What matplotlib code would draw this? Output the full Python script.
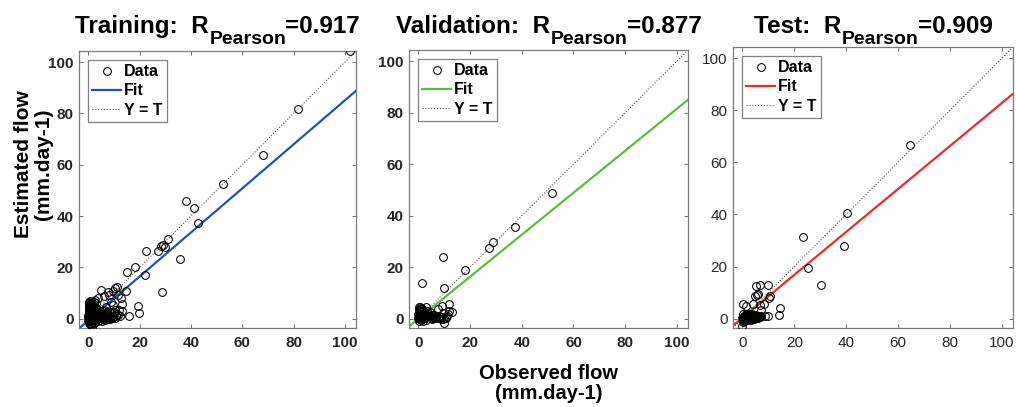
import matplotlib
matplotlib.use("Agg")
import matplotlib.pyplot as plt

plt.rcParams["font.family"] = ["Liberation Sans", "DejaVu Sans"]

# ---- data (observed, estimated) ----
train_obs = [102.0, 81.6, 68.2, 52.4, 37.9, 41.2, 42.8, 35.9, 31.1, 28.5, 27.1, 30.0, 29.3, 22.6,
             18.3, 15.2, 22.2, 28.9, 19.2, 19.8, 16.0, 14.7, 11.2, 10.3, 12.7, 13.0, 13.0, 5.1,
             7.5, 9.5, 6.2, 8.8, 8.2, 11.4, 6.9, 9.5, 12.1, 3.6, 2.3, 0.4, 1.5,
             0.1, 0.3, 0.2, 0.5, 0.1, 0.4, 0.6, 0.2, 0.8, 0.3, 1.0, 0.7, 1.2, 0.9, 1.3, 0.6,
             1.1, 1.4, 0.4, 0.8, 1.5, 0.2, 1.0, 0.5, 1.6, 1.8, 2.0, 2.2, 2.5, 2.8, 3.0, 3.3,
             2.6, 1.9, 0.0, 0.9,
             2.0, 2.4, 2.9, 3.4, 3.8, 4.2, 4.6, 5.0, 5.4, 5.8, 6.2, 6.6, 7.0, 7.4, 7.8, 8.2,
             8.6, 9.0, 9.4, 9.8, 10.3, 10.8, 11.5, 3.1, 4.0, 4.8, 5.6, 6.4, 7.2, 8.0, 8.9,
             3.6, 5.2, 2.2, 4.4, 6.0, 9.9, 10.6, 11.0, 12.3, 1.4, 3.0, 5.9, 7.7, 0.6, 1.0,
             1.7, 2.7, 4.5, 6.8,
             0.0, 0.3, 0.6, 0.9, 1.2, 0.1, 0.5, 0.8, 1.1, 0.3, 0.7, 0.0, 0.4, 1.3, 0.2, 0.9,
             1.6, 2.1, 2.5, 3.2, 3.9, 4.7, 5.5, 6.3, 7.1, 7.9, 8.7, 9.6, 1.9, 2.3]
train_est = [104.2, 81.8, 63.7, 52.4, 45.9, 43.1, 37.2, 23.2, 31.0, 28.4, 26.2, 27.9, 28.6, 26.2,
             20.0, 18.2, 17.1, 10.5, 5.1, 2.2, 1.2, 10.9, 12.3, 11.8, 8.0, 5.8, 2.9, 11.3,
             10.6, 10.9, 8.7, 6.7, 9.3, 9.3, 4.5, 5.4, 3.5, 8.0, 6.7, 6.1, -3.4,
             -1.5, -0.8, 0.5, 1.2, 2.0, 2.8, 3.5, 4.2, 4.8, 5.5, 6.2, -2.0, -1.0, 0.2, 1.6, 2.4,
             3.1, 4.0, -0.2, 1.0, 2.2, 3.2, 5.2, 6.8, 0.6, 3.6, 5.0, 1.8, 4.4, 2.6, 6.0, 3.8,
             7.2, -1.2, 0.9, -2.6,
             0.3, -0.5, 0.8, 0.0, 1.2, 0.4, -0.6, 0.9, 0.2, 1.4, 0.5, -0.3, 1.0, 0.3, 1.6, 0.6,
             0.1, 1.1, 0.4, 0.8, 0.2, 0.9, 1.4, 1.9, 2.4, 1.8, 2.9, 2.2, 2.6, 3.0, 2.3,
             -1.0, -0.9, -1.6, 3.2, 3.6, 2.7, 3.4, 1.9, 1.1, 0.0, -0.2, -0.1, -0.2, 0.6, -0.5,
             1.0, 1.4, 1.0, 1.8,
             -0.4, 0.4, 1.8, 2.6, 3.4, 4.4, 5.8, 0.0, -1.8, 3.8, 2.0, 1.2, 4.6, 5.6, 6.4, 1.6,
             0.2, 0.6, -0.2, 0.9, 0.4, 1.2, 0.6, 0.3, 0.8, 0.4, 0.7, 0.5, 2.8, 3.9]

valid_obs = [51.8, 37.2, 28.8, 27.5, 18.1, 9.4, 1.3, 10.1, 12.0, 12.9, 9.0, 11.1, 9.4, 9.8,
             2.8, 0.7, 7.5, 9.4, 11.4, 12.0, 10.7, 8.8, 10.1,
             0.1, 0.4, 0.2, 0.6, 0.3, 0.8, 0.5, 1.1, 0.2, 1.0, 1.4, 1.2, 1.6, 1.9, 2.2, 2.6,
             2.4, 3.0, 3.4, 3.8, 4.2, 4.7, 5.1, 5.6, 6.0, 6.5, 7.0, 7.5, 8.0, 8.6, 3.2, 4.4,
             0.9, 1.8, 2.9, 5.3, 0.0, 1.5,
             0.0, 0.4, 0.8, 1.2, 0.3, 0.7, 1.0, 1.6, 2.0, 2.5, 3.1, 3.6, 4.1, 4.9, 5.8, 6.8,
             7.8, 8.9]
valid_est = [48.7, 35.7, 29.9, 27.3, 18.9, 24.0, 14.0, 11.8, 5.6, 2.7, 4.9, 1.0, 0.0, 0.4,
             4.4, 4.5, 3.6, 2.3, 1.7, 2.9, 0.4, -0.3, -1.5,
             -1.0, -0.3, 0.6, 1.4, 2.2, 2.9, 3.6, 4.2, 4.6, -0.6, 0.5, 1.8, 2.6, 3.4, 1.2, 0.3,
             2.4, 1.6, 0.6, 1.9, 0.9, 0.2, 1.3, 0.6, 1.6, 0.4, 1.0, 0.3, 1.2, 0.6, 3.0, 2.5,
             0.9, -0.8, -0.4, -0.3, 1.7, 3.9,
             0.2, 1.0, 0.0, 2.8, 3.2, 1.8, 3.9, 0.8, 2.0, 1.5, 0.4, 1.2, 0.5, 0.9, 0.3, 0.7,
             0.2, 0.6]

test_obs = [64.4, 40.4, 39.0, 23.4, 25.2, 30.4, 14.6, 14.2, 9.7, 6.7, 5.2, 6.1, 4.9, 10.3,
            3.9, 6.7, 8.4, 0.4, 1.3, 0.0, 7.3, 8.6, 9.7, 7.0, 5.8, 10.6,
            0.0, 0.3, 0.6, 0.9, 1.2, 1.5, 1.8, 2.1, 2.4, 2.7, 3.0, 3.3, 3.6, 3.9, 4.2, 4.5,
            4.8, 5.1, 5.4, 5.7, 6.0, 6.3, 6.6, 0.2, 0.8, 1.4, 2.0, 2.6, 3.2, 3.8, 4.4, 5.0,
            0.5, 1.1, 1.7, 2.3, 2.9, 3.5, 4.1, 4.7, 0.1,
            0.2, 0.7, 1.3, 1.9, 2.5, 3.1, 3.7, 4.3, 4.9, 5.5, 6.1, 6.9, 0.4, 1.0, 1.6, 2.2]
test_est = [66.5, 40.4, 27.8, 31.2, 19.5, 12.8, 4.2, 1.3, 12.9, 13.1, 12.5, 9.6, 8.6, 7.9,
            5.8, 5.4, 5.5, 5.5, 5.0, -2.8, 0.9, 0.9, 0.9, 3.2, 9.0, 8.6,
            0.2, -0.4, 0.9, 0.1, 1.3, -0.2, 0.6, 1.1, 0.0, 0.8, 1.4, 0.3, 0.9, -0.1, 0.6, 1.2,
            0.4, 0.9, 0.2, 0.7, 1.1, 0.5, 0.9, 1.6, -0.8, 1.9, -0.7, 1.7, -0.6, 1.6, -0.3, 1.5,
            0.5, 0.4, 1.4, 0.5, 0.1, 1.5, 0.2, 0.8, -1.2,
            0.8, 0.3, 0.6, 1.0, 0.4, 0.7, 1.1, 0.5, 0.6, 1.0, 0.4, 0.8, -0.3, 1.2, 0.2, 1.3]

set_names = ["Training", "Validation", "Test"]
r_pearson = [0.917, 0.877, 0.909]
fit_slope = [0.858, 0.815, 0.825]
fit_intercept = [-0.7, 0.0, 0.3]
fit_colors = ["#2352b0", "#5dbb3f", "#ee2a2a"]
tick_values = [0, 20, 40, 60, 80, 100]

obs_sets = [train_obs, valid_obs, test_obs]
est_sets = [train_est, valid_est, test_est]

# axes boxes in figure fraction (left, bottom, width, height)
boxes = [(0.0778, 0.1941, 0.2726, 0.6806),
         (0.4026, 0.1941, 0.2746, 0.6830),
         (0.7215, 0.1941, 0.2756, 0.6904)]

fig = plt.figure(figsize=(10.16, 4.07), dpi=100)
titles = []

for i in range(3):
    ax = fig.add_axes(boxes[i])
    ax.plot(obs_sets[i], est_sets[i], "o", mfc="none", mec="black", ms=5.6, mew=0.75,
            label="Data", zorder=3)
    ax.axline((0, fit_intercept[i]), slope=fit_slope[i], color=fit_colors[i], lw=1.6,
              label="Fit", zorder=2)
    ax.axline((0, 0), slope=1, color="#555555", lw=0.8, ls=(0, (1, 1.6)),
              label="Y = T", zorder=1)

    ax.set_xlim(-3.6, 104.3)
    ax.set_ylim(-3.6, 104.3)
    ax.set_xticks(tick_values)
    ax.set_yticks(tick_values)
    weight = "normal" if i == 2 else "bold"
    ax.tick_params(direction="in", length=3, width=0.6, color="#555555",
                   top=True, right=True, labelsize=11, labelcolor="#262626")
    ax.tick_params(axis="x", pad=6)
    ax.tick_params(axis="y", pad=4)
    for lab in ax.get_xticklabels() + ax.get_yticklabels():
        lab.set_fontweight(weight)
    for sp in ax.spines.values():
        sp.set_color("#7a7a7a")
        sp.set_linewidth(0.9)

    # title "Name:  R_Pearson=r" built from three pieces so the subscript can sit low
    cx = boxes[i][0] + boxes[i][2] / 2
    t1 = fig.text(cx, 0.919, set_names[i] + ":  R", fontsize=17.5, fontweight="bold",
                  ha="left", va="baseline")
    t2 = ax.annotate("Pearson", xy=(1, 0), xycoords=t1, xytext=(1, -6),
                     textcoords="offset pixels", fontsize=14, fontweight="bold",
                     ha="left", va="baseline", annotation_clip=False)
    t3 = ax.annotate(f"={r_pearson[i]:.3f}", xy=(1, 0), xycoords=(t2, t1), xytext=(-1, 0),
                     textcoords="offset pixels", fontsize=17.5, fontweight="bold",
                     ha="left", va="bottom", annotation_clip=False)
    titles.append((t1, t3, cx))

    leg = ax.legend(loc="upper left", prop={"weight": "bold", "size": 11.5},
                    fancybox=False, framealpha=1, edgecolor="#808080",
                    borderpad=0.27, labelspacing=0.27, handlelength=1.8,
                    handletextpad=0.2, borderaxespad=0.55)
    leg.get_frame().set_linewidth(0.9)

    if i == 0:
        ax.set_ylabel("Estimated flow\n(mm.day-1)", fontsize=15, fontweight="bold",
                      linespacing=1.1, va="center")
        ax.yaxis.set_label_coords(-0.165, 0.59)
    if i == 1:
        ax.set_xlabel("Observed flow\n(mm.day-1)", fontsize=14.5, fontweight="bold",
                      linespacing=1.1, va="center")
        ax.xaxis.set_label_coords(0.5, -0.2)

# centre each three-piece title over its axes
fig.canvas.draw()
renderer = fig.canvas.get_renderer()
fig_w = fig.bbox.width
for t1, t3, cx in titles:
    left = t1.get_window_extent(renderer).x0
    right = t3.get_window_extent(renderer).x1
    width = (right - left) / fig_w
    t1.set_x(cx - width / 2)

fig.savefig("out.png", dpi=100)
